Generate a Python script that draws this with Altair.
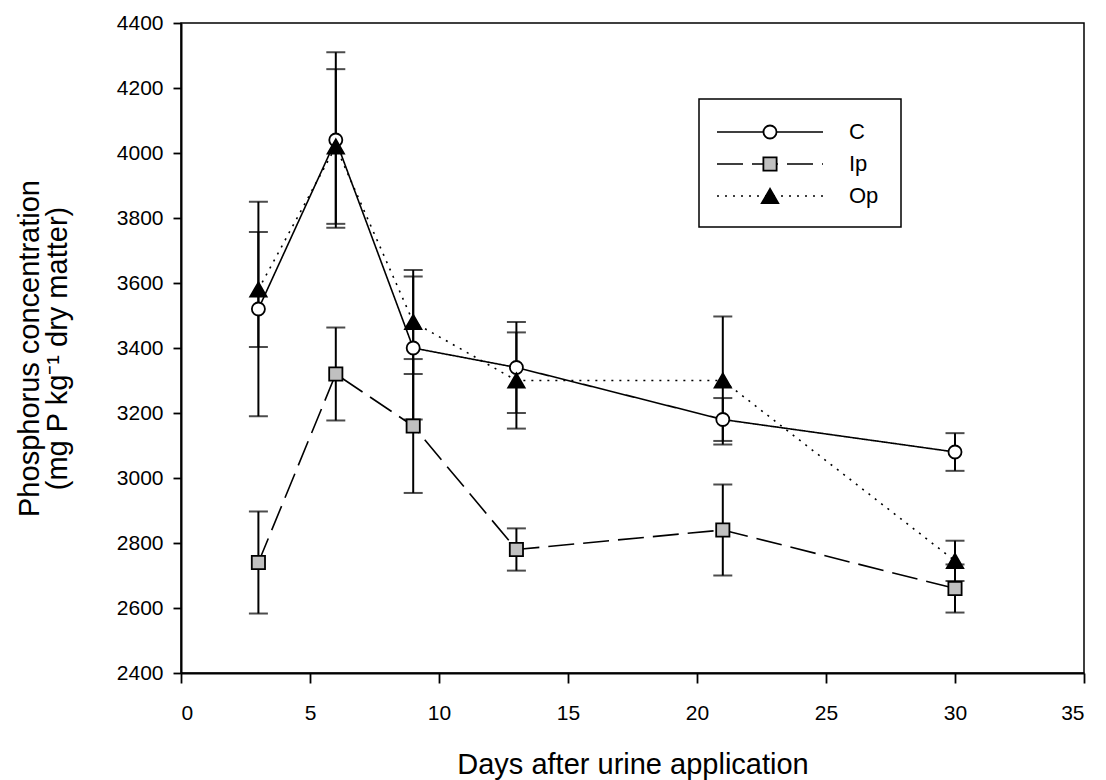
import altair as alt
import pandas as pd

# ---- data ----
days = [3, 6, 9, 13, 21, 30]
series_names = ["C", "Ip", "Op"]
c_mean = [3520, 4040, 3400, 3340, 3180, 3080]
c_err = [330, 270, 220, 140, 66, 58]
ip_mean = [2740, 3320, 3160, 2780, 2840, 2660]
ip_err = [157, 143, 206, 65, 140, 74]
op_mean = [3580, 4020, 3480, 3300, 3300, 2745]
op_err = [177, 238, 160, 148, 197, 62]

x_ticks = [0, 5, 10, 15, 20, 25, 30, 35]
y_ticks = [2400, 2600, 2800, 3000, 3200, 3400, 3600, 3800, 4000, 4200, 4400]

rows = []
for name, means, errs in zip(series_names, [c_mean, ip_mean, op_mean], [c_err, ip_err, op_err]):
    for d, m, e in zip(days, means, errs):
        rows.append({"series": name, "day": d, "mean": m, "lo": m - e, "hi": m + e})
df = pd.DataFrame(rows)

FONT = "Liberation Sans"
shapes = {"C": "circle", "Ip": "square", "Op": "triangle-up"}
fills = {"C": "white", "Ip": "#C0C0C0", "Op": "black"}
sizes = {"C": 170, "Ip": 175, "Op": 270}
dash_scale = alt.Scale(domain=series_names, range=[[1, 0], [26, 9], [2, 6]])

x_axis = alt.Axis(values=x_ticks, title="Days after urine application", grid=False, format="d",
                  tickSize=10, labelPadding=19, labelFontSize=21, titleFontSize=29,
                  titleY=100, titleX=451.5, titleBaseline="alphabetic", titleAlign="center",
                  titleFontWeight="normal")
y_axis = alt.Axis(values=y_ticks, title=["Phosphorus concentration", "(mg P kg\u207b\u00b9 dry matter)"],
                  grid=False, format="d", tickSize=8, labelPadding=10, labelFontSize=21, titleFontSize=29,
                  titleAngle=270, titleX=-143, titleY=325, titleBaseline="alphabetic",
                  titleAlign="center", titleLineHeight=28, titleFontWeight="normal")
x_scale = alt.Scale(domain=[0, 35], nice=False, zero=False)
y_scale = alt.Scale(domain=[2400, 4400], nice=False, zero=False)


def X(field):
    return alt.X(field, type="quantitative", scale=x_scale, axis=x_axis)


def Y(field):
    return alt.Y(field, type="quantitative", scale=y_scale, axis=y_axis)


base = alt.Chart(df)

lines = base.mark_line(color="black", strokeWidth=1.6).encode(
    x=X("day"), y=Y("mean"),
    strokeDash=alt.StrokeDash("series:N", scale=dash_scale, legend=None),
    detail="series:N",
)

layers = [lines]
for name in series_names:
    sub = base.transform_filter(alt.datum.series == name)
    bars = sub.mark_rule(color="black", strokeWidth=2).encode(x=X("day"), y=Y("lo"), y2="hi:Q")
    cap_lo = sub.mark_tick(color="black", orient="horizontal", size=19, thickness=2).encode(x=X("day"), y=Y("lo"))
    cap_hi = sub.mark_tick(color="black", orient="horizontal", size=19, thickness=2).encode(x=X("day"), y=Y("hi"))
    layers += [bars, cap_lo, cap_hi]

for name in series_names:
    sub = base.transform_filter(alt.datum.series == name)
    pts = sub.mark_point(shape=shapes[name], fill=fills[name], filled=True, stroke="black",
                         strokeWidth=1.8, size=sizes[name], opacity=1).encode(x=X("day"), y=Y("mean"))
    layers.append(pts)

# ---- legend (layout positions, relative to plot area) ----
legend_box = alt.Chart(pd.DataFrame({"k": [0]})).mark_rect(
    fill="white", stroke="black", strokeWidth=1.5
).encode(x=alt.value(518), x2=alt.value(720), y=alt.value(76), y2=alt.value(204))
layers.append(legend_box)

legend_rows_y = [109, 141, 173]
legend_df = pd.DataFrame({"series": series_names})
for name, ly in zip(series_names, legend_rows_y):
    ld = alt.Chart(legend_df).transform_filter(alt.datum.series == name)
    seg = ld.mark_rule(color="black", strokeWidth=1.6).encode(
        x=alt.value(536), x2=alt.value(642), y=alt.value(ly),
        strokeDash=alt.StrokeDash("series:N", scale=dash_scale, legend=None))
    sym = ld.mark_point(shape=shapes[name], fill=fills[name], filled=True, stroke="black",
                        strokeWidth=1.8, size=sizes[name], opacity=1).encode(
        x=alt.value(589), y=alt.value(ly))
    lab = ld.mark_text(align="left", baseline="middle", font=FONT, fontSize=22, color="black").encode(
        x=alt.value(668), y=alt.value(ly), text="series:N")
    layers += [seg, sym, lab]

chart = alt.layer(*layers).properties(
    width=903, height=650,
    padding={"left": 181, "top": 23, "right": 22, "bottom": 107},
    autosize=alt.AutoSizeParams(type="none"),
).configure_view(
    stroke="black", strokeWidth=1.5
).configure_axis(
    domainColor="black", domainWidth=2, tickColor="black", tickWidth=1.8,
    labelColor="black", titleColor="black", labelFont=FONT, titleFont=FONT,
)

chart.save("out.html", embed_options={"renderer": "svg", "actions": False})
